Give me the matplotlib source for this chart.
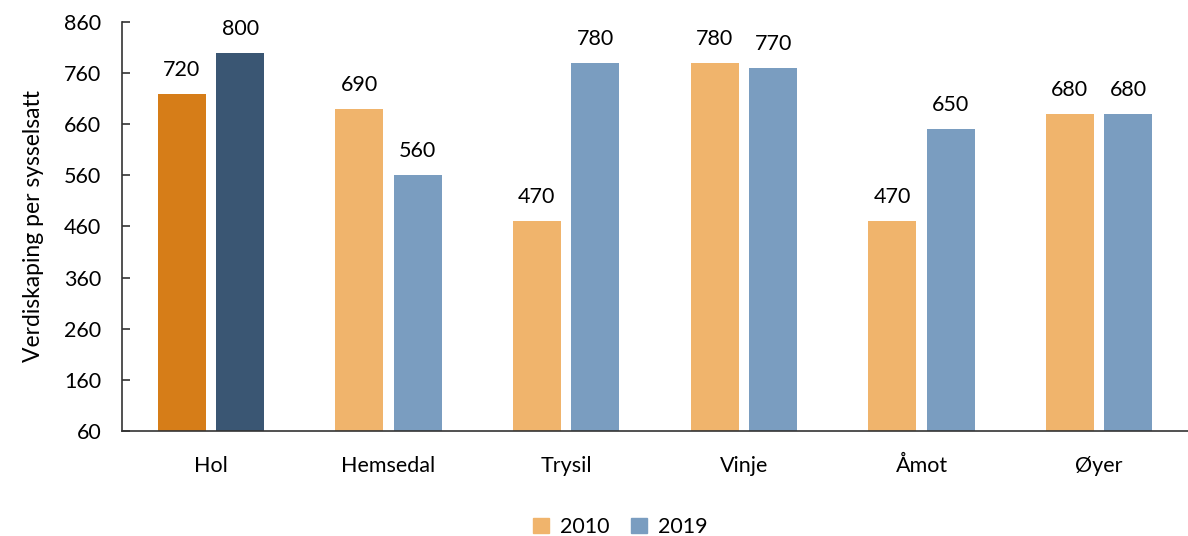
import numpy as np
import matplotlib.pyplot as plt
from matplotlib.patches import Patch

plt.rcParams['font.family'] = ['Lato', 'DejaVu Sans']

kommuner = ['Hol', 'Hemsedal', 'Trysil', 'Vinje', 'Åmot', 'Øyer']
v2010 = [720, 690, 470, 780, 470, 680]
v2019 = [800, 560, 780, 770, 650, 680]

c2010 = ['#d67d18'] + ['#f0b46c'] * 5
c2019 = ['#3a5673'] + ['#7a9dc0'] * 5

fig = plt.figure(figsize=(11.88, 5.36), dpi=100)
ax = fig.add_axes([122 / 1188, 1 - 431 / 536, (1188 - 122) / 1188, (431 - 22) / 536])

x = np.arange(len(kommuner))
w = 0.27
b1 = ax.bar(x - 0.165, np.array(v2010) - 60, w, bottom=60, color=c2010)
b2 = ax.bar(x + 0.165, np.array(v2019) - 60, w, bottom=60, color=c2019)

for bars, vals in [(b1, v2010), (b2, v2019)]:
    for b, v in zip(bars, vals):
        ax.annotate(str(v), (b.get_x() + b.get_width() / 2, v), xytext=(0, 10),
                    textcoords='offset points', ha='center', va='bottom', fontsize=15.5)

ax.set_ylim(60, 860)
ax.set_xlim(-0.5, 5.5)
ax.set_yticks(range(60, 861, 100))
ax.set_xticks(x)
ax.set_xticklabels(kommuner)
ax.tick_params(axis='y', direction='in', length=6, labelsize=15.5, width=1.2, color='#333333', pad=15)
ax.tick_params(axis='x', length=0, labelsize=15.5, pad=18)
ax.spines['top'].set_visible(False)
ax.spines['right'].set_visible(False)
ax.spines['left'].set_color('#333333')
ax.spines['bottom'].set_color('#333333')
ax.spines['left'].set_linewidth(1.2)
ax.spines['bottom'].set_linewidth(1.2)
ax.set_ylabel('Verdiskaping per sysselsatt', fontsize=16.5, labelpad=14)

handles = [Patch(color='#f0b46c', label='2010'), Patch(color='#7a9dc0', label='2019')]
fig.legend(handles=handles, loc='center', bbox_to_anchor=(620 / 1188, 1 - 527 / 536), ncol=2,
           frameon=False, fontsize=15.5, handlelength=0.75, handleheight=0.75, columnspacing=1.0,
           handletextpad=0.5)

fig.savefig('out.png', dpi=100)
